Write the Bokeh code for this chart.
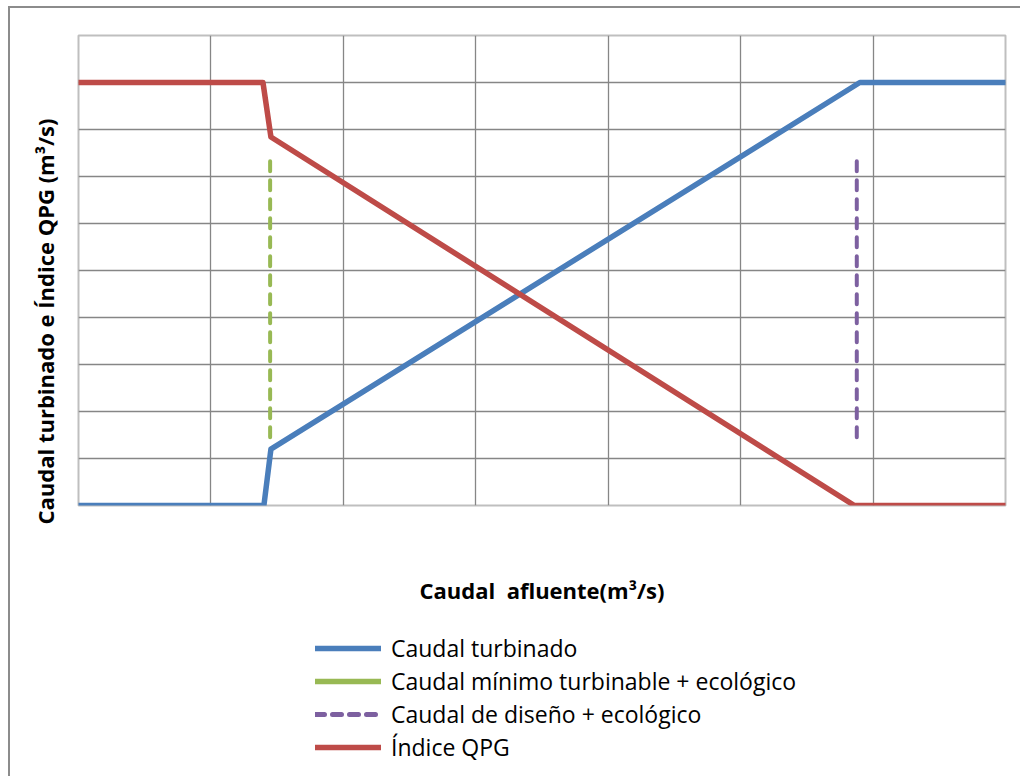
from bokeh.plotting import figure
from bokeh.layouts import column
from bokeh.models import Range1d, SingleIntervalTicker, FixedTicker, Legend, LegendItem, Title
from bokeh.embed import file_html
from bokeh.resources import INLINE

# ---- data (x in grid units of "Caudal afluente", y in grid units) ----
turb_x = [0.0, 1.40, 1.453, 5.90, 7.0]
turb_y = [0.0, 0.0, 1.20, 9.0, 9.0]

qpg_x = [0.0, 1.393, 1.453, 5.859, 7.0]
qpg_y = [9.0, 9.0, 7.84, 0.0, 0.0]

min_x = [1.447, 1.447]
min_y = [1.45, 7.46]

dis_x = [5.877, 5.877]
dis_y = [1.45, 7.46]

legend_labels = ["Caudal turbinado", "Caudal mínimo turbinable + ecológico",
                 "Caudal de diseño + ecológico", "Índice QPG"]
x_title = "Caudal\u00a0 afluente(m³/s)"
y_title = "Caudal turbinado e Índice QPG (m³/s)"

BLUE = "#4A7EBB"
RED = "#BE4B48"
GREEN = "#98B954"
PURPLE = "#7D60A0"
GRID = "#868686"
BORDER = "2px solid #8c8c8c"
FONT = "Open Sans"
NAN = float("nan")

# ---------------- main chart ----------------
p = figure(frame_width=925, frame_height=468, output_backend="svg",
           toolbar_location=None, x_range=Range1d(0, 7), y_range=Range1d(0, 10),
           min_border_left=68, min_border_top=27, min_border_right=17,
           min_border_bottom=120)
p.styles = {"border-left": BORDER, "border-top": BORDER,
            "margin-left": "8px", "margin-top": "6px"}

p.xaxis.ticker = FixedTicker(ticks=[])
p.xaxis.axis_line_color = None
p.xaxis.major_tick_line_color = None
p.xaxis.minor_tick_line_color = None
p.xaxis.axis_label = x_title
p.xaxis.axis_label_text_font = FONT
p.xaxis.axis_label_text_font_style = "bold"
p.xaxis.axis_label_text_font_size = "22px"
p.xaxis.axis_label_text_color = "black"
p.xaxis.axis_label_standoff = 69
p.yaxis.visible = False

p.xgrid.ticker = SingleIntervalTicker(interval=1)
p.ygrid.ticker = SingleIntervalTicker(interval=1)
for g in (p.xgrid, p.ygrid):
    g.grid_line_color = GRID
    g.grid_line_width = 1.3
p.outline_line_color = "#BFBFBF"
p.outline_line_width = 2
p.background_fill_color = "white"
p.border_fill_color = "white"

p.line(turb_x, turb_y, line_color=BLUE, line_width=5.5, line_join="round", line_cap="round")
p.line(min_x, min_y, line_color=GREEN, line_width=4, line_dash="10 9", line_cap="round")
p.line(dis_x, dis_y, line_color=PURPLE, line_width=4, line_dash="10 9", line_cap="round")
p.line(qpg_x, qpg_y, line_color=RED, line_width=5.5, line_join="round", line_cap="round")

ytitle = Title(text=y_title, align="left", vertical_align="middle", offset=-19,
               standoff=36, text_font=FONT, text_font_style="bold",
               text_font_size="22px", text_color="black")
p.add_layout(ytitle, "left")

# ---------------- legend strip ----------------
q = figure(width=1010, height=153, output_backend="svg", toolbar_location=None,
           x_range=Range1d(0, 1), y_range=Range1d(0, 1), min_border=0)
q.styles = {"border-left": BORDER, "margin-left": "8px"}
q.axis.visible = False
q.grid.visible = False
q.outline_line_color = None
q.background_fill_color = "white"
q.border_fill_color = "white"

lg_turb = q.line([NAN], [NAN], line_color=BLUE, line_width=5.5, line_cap="round")
lg_min = q.line([NAN], [NAN], line_color=GREEN, line_width=5.5, line_cap="round")
lg_dis = q.line([NAN], [NAN], line_color=PURPLE, line_width=5, line_dash="9 8", line_cap="round")
lg_qpg = q.line([NAN], [NAN], line_color=RED, line_width=5.5, line_cap="round")

legend = Legend(items=[LegendItem(label=legend_labels[0], renderers=[lg_turb]),
                       LegendItem(label=legend_labels[1], renderers=[lg_min]),
                       LegendItem(label=legend_labels[2], renderers=[lg_dis]),
                       LegendItem(label=legend_labels[3], renderers=[lg_qpg])],
                location=(237, 13), orientation="vertical",
                glyph_width=66, glyph_height=20, label_height=20, label_standoff=10,
                spacing=1, padding=0, margin=0, border_line_color=None,
                background_fill_alpha=0, label_text_font=FONT,
                label_text_font_size="23px", label_text_color="black")
q.add_layout(legend, "center")

open("out.html", "w").write(file_html(column(p, q, spacing=0), INLINE))
